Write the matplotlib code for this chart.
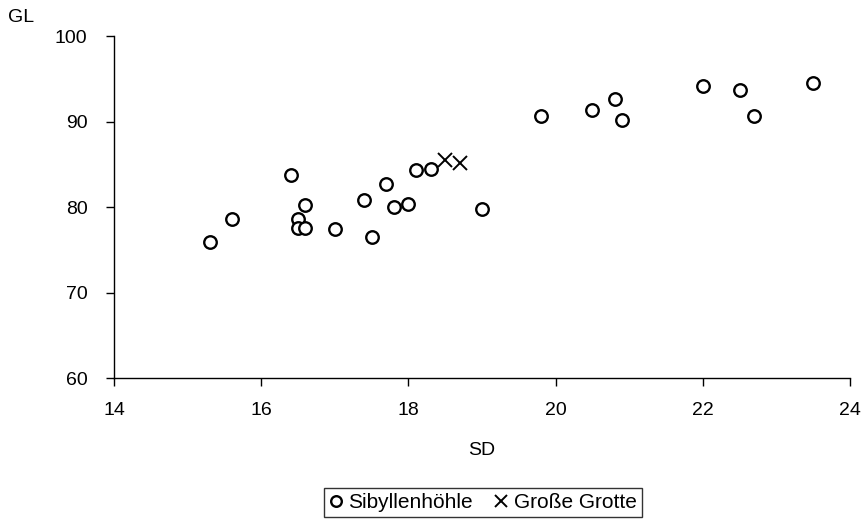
import matplotlib
matplotlib.use("Agg")
import matplotlib.pyplot as plt

plt.rcParams['font.family'] = ['Liberation Sans', 'DejaVu Sans']

sib_sd = [15.3, 15.6, 16.4, 16.6, 16.5, 16.5, 16.6, 17.0, 17.5, 17.4, 17.7, 17.8, 18.0,
          18.1, 18.3, 19.0, 19.8, 20.5, 20.8, 20.9, 22.0, 22.5, 22.7, 23.5]
sib_gl = [75.9, 78.6, 83.7, 80.2, 78.6, 77.5, 77.6, 77.4, 76.5, 80.8, 82.7, 80.0, 80.4,
          84.3, 84.5, 79.8, 90.6, 91.3, 92.6, 90.2, 94.2, 93.7, 90.6, 94.5]
gro_sd = [18.5, 18.7]
gro_gl = [85.5, 85.1]

series_names = ["Sibyllenhöhle", "Große Grotte"]
x_ticks = [14, 16, 18, 20, 22, 24]
y_ticks = [60, 70, 80, 90, 100]

fig = plt.figure(figsize=(8.65, 5.23), dpi=100)
ax = fig.add_axes([0.1318, 0.277, 0.851, 0.654])

ax.plot(sib_sd, sib_gl, linestyle='none', marker='o', markersize=9,
        markerfacecolor='white', markeredgecolor='black', markeredgewidth=1.7,
        label=series_names[0])
ax.plot(gro_sd, gro_gl, linestyle='none', marker='x', markersize=10,
        color='black', markeredgewidth=1.4, label=series_names[1])

ax.set_xlim(14, 24)
ax.set_ylim(60, 100)
ax.set_xticks(x_ticks)
ax.set_yticks(y_ticks)
ax.spines['top'].set_visible(False)
ax.spines['right'].set_visible(False)
for s in ('left', 'bottom'):
    ax.spines[s].set_linewidth(1.0)
ax.tick_params(direction='out', length=6, width=1.0, labelsize=14)
ax.tick_params(axis='x', pad=11)
ax.tick_params(axis='y', pad=13)

ax.set_xlabel("SD", fontsize=14, labelpad=17)
fig.text(0.009, 0.950, "GL", fontsize=14, ha='left', va='bottom')

leg = fig.legend(loc='center', bbox_to_anchor=(0.558, 0.039), ncol=2,
                 fontsize=15, frameon=True, fancybox=False, edgecolor='black',
                 handlelength=0.7, handletextpad=0.25, columnspacing=1.0,
                 borderpad=0.25, borderaxespad=0, markerscale=0.85)
leg.get_frame().set_linewidth(1.0)

fig.savefig("out.png", dpi=100)
